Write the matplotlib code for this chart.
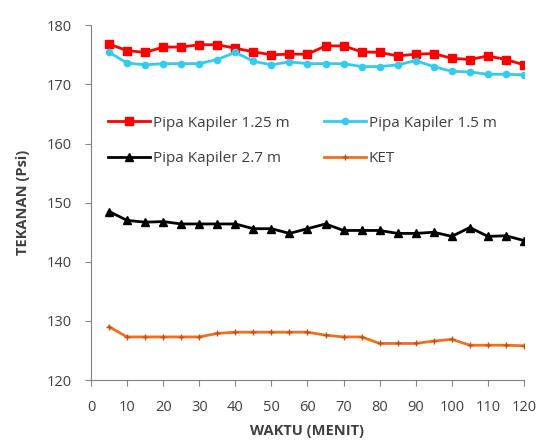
import matplotlib
matplotlib.use("Agg")
import matplotlib.pyplot as plt

# time (minutes)
waktu = [5, 10, 15, 20, 25, 30, 35, 40, 45, 50, 55, 60,
         65, 70, 75, 80, 85, 90, 95, 100, 105, 110, 115, 120]

pipa_125 = [176.8, 175.7, 175.4, 176.3, 176.3, 176.7, 176.7, 176.1, 175.5, 175.0, 175.1, 175.1,
            176.5, 176.5, 175.5, 175.4, 174.8, 175.1, 175.2, 174.4, 174.2, 174.8, 174.2, 173.3]
pipa_15 = [175.4, 173.6, 173.3, 173.5, 173.5, 173.5, 174.2, 175.4, 173.9, 173.3, 173.8, 173.5,
           173.5, 173.5, 173.0, 173.0, 173.3, 174.0, 173.0, 172.2, 172.1, 171.7, 171.7, 171.6]
pipa_27 = [148.5, 147.0, 146.7, 146.8, 146.4, 146.4, 146.4, 146.4, 145.6, 145.6, 144.8, 145.6,
           146.4, 145.3, 145.3, 145.3, 144.8, 144.8, 145.0, 144.3, 145.8, 144.3, 144.4, 143.6]
ket = [129.0, 127.3, 127.3, 127.3, 127.3, 127.3, 127.9, 128.1, 128.1, 128.1, 128.1, 128.1,
       127.6, 127.3, 127.3, 126.2, 126.2, 126.2, 126.6, 126.9, 125.9, 125.9, 125.9, 125.8]

x_ticks = list(range(0, 121, 10))
y_ticks = list(range(120, 181, 10))

plt.rcParams["font.family"] = ["Open Sans", "DejaVu Sans"]

fig = plt.figure(figsize=(5.39, 4.42), dpi=100)
ax = fig.add_axes([0.169, 0.140, 0.803, 0.803])

l1, = ax.plot(waktu, pipa_125, "-s", color="#ff0000", lw=2, ms=6, label="Pipa Kapiler 1.25 m")
l2, = ax.plot(waktu, pipa_15, "-o", color="#33ccee", lw=2, ms=4.5, label="Pipa Kapiler 1.5 m")
l3, = ax.plot(waktu, pipa_27, "-^", color="#000000", lw=2, ms=6, label="Pipa Kapiler 2.7 m")
l4, = ax.plot(waktu, ket, "-", color="#f07020", lw=2, marker="+", ms=4, mec="#c05010", label="KET")

ax.set_xlim(0, 120)
ax.set_ylim(120, 180)
ax.set_xticks(x_ticks)
ax.set_yticks(y_ticks)
ax.tick_params(direction="out", length=4, color="#888888", labelsize=10.5, labelcolor="#404040")
ax.tick_params(axis="y", pad=10)
ax.tick_params(axis="x", pad=10)

for side in ("top", "right"):
    ax.spines[side].set_visible(False)
for side in ("left", "bottom"):
    ax.spines[side].set_color("#808080")

ax.set_xlabel("WAKTU (MENIT)", fontsize=10.5, fontweight="bold", color="#404040", labelpad=7)
ax.set_ylabel("TEKANAN (Psi)", fontsize=10.5, fontweight="bold", color="#404040", labelpad=12)

# row-wise legend order like the original (matplotlib fills columns first)
ax.legend([l1, l3, l2, l4], [l1.get_label(), l3.get_label(), l2.get_label(), l4.get_label()],
          loc="upper left", bbox_to_anchor=(0.04, 0.745), ncol=2, frameon=False,
          fontsize=11, handlelength=2.7, columnspacing=2.3, labelspacing=1.35,
          handletextpad=0.2, borderpad=0, borderaxespad=0, labelcolor="#404040")

fig.savefig("out.png", dpi=100)
